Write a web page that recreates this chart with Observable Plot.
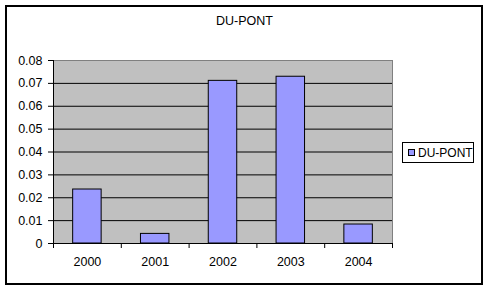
<!DOCTYPE html>
<html>
<head>
<meta charset="utf-8">
<script src="https://cdn.jsdelivr.net/npm/d3@7"></script>
<script src="https://cdn.jsdelivr.net/npm/@observablehq/plot@0.6"></script>
<style>
  html, body { margin: 0; padding: 0; background: #fff; }
  #wrap { position: relative; width: 489px; height: 290px; font-family: "Liberation Sans", Arial, sans-serif; }
  #border { position: absolute; left: 5px; top: 5px; width: 478px; height: 280px; box-sizing: border-box; border: 2px solid #000; pointer-events: none; }
  #title { position: absolute; left: 0; width: 489px; top: 14px; text-align: center; font-size: 12.5px; color: #000; }
  #legend { position: absolute; left: 402px; top: 142px; width: 72px; height: 21px; box-sizing: border-box; border: 1px solid #000; background: #fff; font-size: 12px; display: flex; align-items: center; white-space: nowrap; overflow: visible; }
  #legend .sw { flex: none; width: 7px; height: 7px; box-sizing: border-box; border: 1px solid #000; background: #9999FF; margin-left: 5px; margin-right: 3px; }
  #chart { position: absolute; left: 0; top: 0; }
</style>
</head>
<body>
<div id="wrap">
  <div id="chart"></div>
  <div id="title"></div>
  <div id="legend"><div class="sw"></div><span id="legtext"></span></div>
  <div id="border"></div>
</div>
<script>
const seriesName = "DU-PONT";
const years = ["2000", "2001", "2002", "2003", "2004"];
const values = [0.0236, 0.0042, 0.0711, 0.0729, 0.0083];
const yTicks = [0, 0.01, 0.02, 0.03, 0.04, 0.05, 0.06, 0.07, 0.08];

const data = years.map((year, i) => ({i, year, value: values[i]}));
const GAP = 0.29;
const boundaries = d3.range(years.length + 1);
const centers = years.map((_, i) => i + 0.5);

document.getElementById("title").textContent = seriesName;
document.getElementById("legtext").textContent = seriesName;

const chart = Plot.plot({
  width: 489,
  height: 290,
  marginLeft: 53,
  marginRight: 97,
  marginTop: 60,
  marginBottom: 47,
  style: {fontFamily: "'Liberation Sans', Arial, sans-serif", fontSize: "12.5px", color: "#000", background: "transparent"},
  x: {type: "linear", domain: [0, years.length]},
  y: {domain: [0, 0.08]},
  marks: [
    Plot.frame({fill: "#c0c0c0", stroke: "#808080"}),
    Plot.ruleY(yTicks.filter(t => t > 0 && t < 0.08), {stroke: "#000", strokeWidth: 1}),
    Plot.rectY(data, {x1: d => d.i + GAP, x2: d => d.i + 1 - GAP, y1: 0, y2: "value", fill: "#9999FF", stroke: "#000", strokeWidth: 1}),
    Plot.ruleX([0], {stroke: "#000"}),
    Plot.ruleY([0], {stroke: "#000"}),
    Plot.axisY({ticks: yTicks, tickSize: 5, tickPadding: 6, tickFormat: d => d === 0 ? "0" : d.toFixed(2), label: null, stroke: "#000"}),
    Plot.axisX({ticks: boundaries, tickSize: 5, tickFormat: () => "", label: null, stroke: "#000"}),
    Plot.axisX({ticks: centers, tickSize: 0, tickPadding: 14, tickFormat: (d) => years[Math.floor(d)], label: null})
  ]
});
document.getElementById("chart").appendChild(chart);
</script>
</body>
</html>
